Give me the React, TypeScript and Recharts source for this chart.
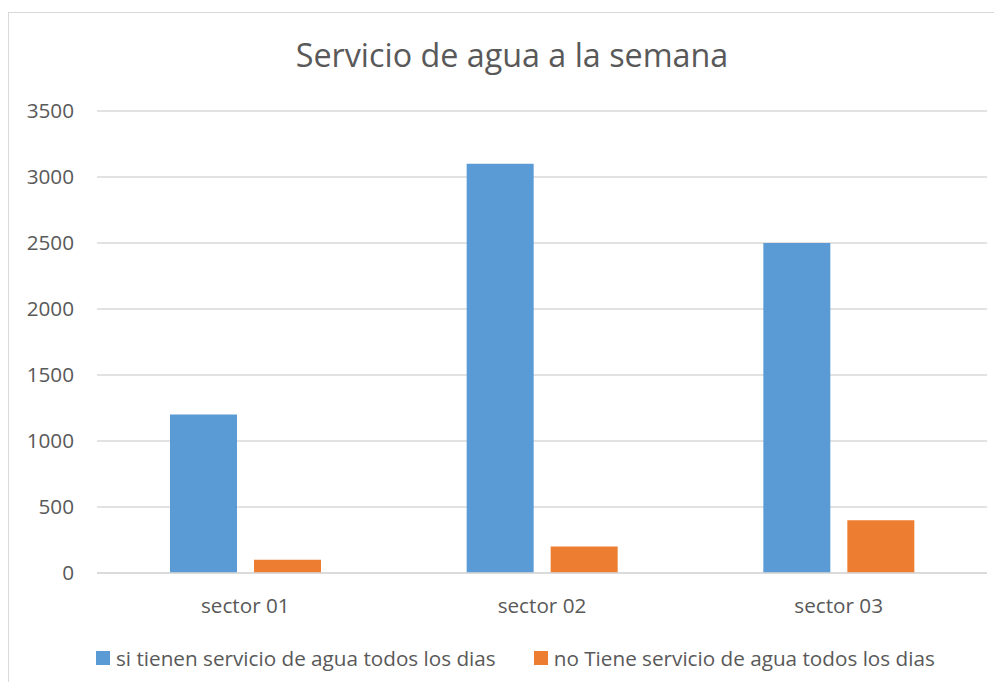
import React from 'react';
import {
  BarChart,
  Bar,
  XAxis,
  YAxis,
  CartesianGrid,
} from 'recharts';

const sectors = ['sector 01', 'sector 02', 'sector 03'];
const conServicio = [1200, 3100, 2500];
const sinServicio = [100, 200, 400];
const yTicks = [0, 500, 1000, 1500, 2000, 2500, 3000, 3500];

const SERIES = [
  { key: 'si', name: 'si tienen servicio de agua todos los dias', color: '#5b9bd5' },
  { key: 'no', name: 'no Tiene servicio de agua todos los dias', color: '#ed7d31' },
];

const FONT = '"Open Sans", "Noto Sans", sans-serif';
const TEXT = '#595959';

const chartData = sectors.map((name, i) => ({
  name,
  si: conServicio[i],
  no: sinServicio[i],
}));

function LegendRow() {
  return (
    <div style={{ display: 'flex', alignItems: 'center', fontFamily: FONT, fontSize: 20.7, color: TEXT, whiteSpace: 'nowrap' }}>
      {SERIES.map((s, i) => (
        <div key={s.key} style={{ display: 'flex', alignItems: 'center', marginLeft: i === 0 ? 0 : 38 }}>
          <span style={{ width: 14, height: 14, background: s.color, display: 'inline-block', marginRight: 6 }} />
          <span>{s.name}</span>
        </div>
      ))}
    </div>
  );
}

export default function App() {
  return (
    <div style={{ position: 'relative', width: 1002, height: 690, margin: -8, overflow: 'hidden', background: '#fff' }}>
      {/* frame */}
      <div
        style={{
          position: 'absolute',
          left: 8,
          top: 12,
          width: 1010,
          height: 700,
          border: '1px solid #d9d9d9',
        }}
      />
      <div
        style={{
          position: 'absolute',
          left: 0,
          width: 1024,
          top: 32,
          textAlign: 'center',
          fontFamily: FONT,
          fontSize: 32.3,
          color: TEXT,
          lineHeight: '44px',
        }}
      >
        Servicio de agua a la semana
      </div>
      <div style={{ position: 'absolute', left: 0, top: 0 }}>
        <BarChart
          width={1002}
          height={690}
          data={chartData}
          margin={{ top: 111, right: 15, left: 37, bottom: 77 }}
          barGap={17}
          barSize={67}
        >
          <CartesianGrid vertical={false} stroke="#d9d9d9" strokeWidth={1.3} />
          <XAxis
            dataKey="name"
            axisLine={{ stroke: '#d9d9d9', strokeWidth: 1.3 }}
            tickLine={false}
            tickSize={0}
            tickMargin={25}
            height={40}
            tick={{ fontSize: 20.7, fill: TEXT, fontFamily: FONT }}
          />
          <YAxis
            width={60}
            domain={[0, 3500]}
            ticks={yTicks}
            axisLine={false}
            tickLine={false}
            tickSize={0}
            tickMargin={23}
            tick={{ fontSize: 20.7, fill: TEXT, fontFamily: FONT }}
          />
          {SERIES.map((s) => (
            <Bar key={s.key} dataKey={s.key} name={s.name} fill={s.color} isAnimationActive={false} />
          ))}
        </BarChart>
      </div>
      <div style={{ position: 'absolute', left: 96, top: 644 }}>
        <LegendRow />
      </div>
    </div>
  );
}
